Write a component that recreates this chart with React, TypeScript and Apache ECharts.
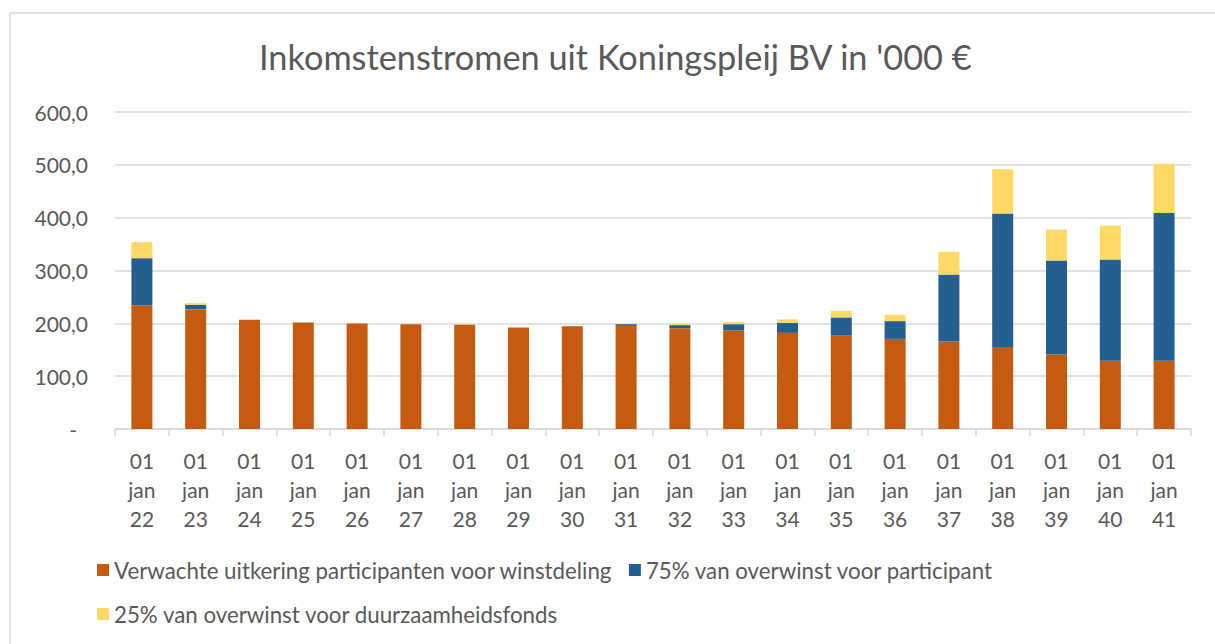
import React, { useEffect, useRef } from "react";
import * as echarts from "echarts";

const years = ["22","23","24","25","26","27","28","29","30","31","32","33","34","35","36","37","38","39","40","41"];
const categories = years.map((y) => `01\njan\n${y}`);
const uitkering = [234, 226.4, 206.7, 201.6, 199.7, 198.5, 197.2, 192.1, 194.7, 195.3, 190.9, 186.4, 182, 176.9, 170.6, 165.5, 155.4, 140.8, 129.4, 129.4];
const participant = [89.4, 8.9, 0, 0, 0, 0, 0, 0, 0, 3.2, 5.7, 12, 19, 34.3, 33.6, 126.8, 252.3, 178.2, 191.5, 279.6];
const fonds = [30.2, 3, 0, 0, 0, 0, 0, 0, 0, 1, 1.9, 4, 6.4, 12.5, 12, 43, 83.8, 58.3, 64, 93.2];
const seriesNames = [
  "Verwachte uitkering participanten voor winstdeling",
  "75% van overwinst voor participant",
  "25% van overwinst voor duurzaamheidsfonds",
];
const colors = ["#C55A11", "#255E91", "#FFD966"];
const FONT = "Lato";
const TXT = "#595959";

export default function App() {
  const ref = useRef<HTMLDivElement>(null);
  useEffect(() => {
    document.body.style.margin = "0";
    const chart = echarts.init(ref.current!, null, { renderer: "svg" });
    const mk = (i: number, data: number[]) => ({
      name: seriesNames[i],
      type: "bar",
      stack: "total",
      data,
      barWidth: 21,
      itemStyle: { color: colors[i] },
    });
    const legendText = { fontFamily: FONT, fontSize: 22.3, color: TXT };
    chart.setOption({
      animation: false,
      textStyle: { fontFamily: FONT },
      graphic: [
        {
          type: "rect",
          shape: { x: 10, y: 13, width: 1240, height: 700 },
          style: { fill: "none", stroke: "#D9D9D9", lineWidth: 1.5 },
          silent: true,
        },
      ],
      title: {
        text: "Inkomstenstromen uit Koningspleij BV in '000 €",
        left: 259,
        top: 39,
        padding: 0,
        textStyle: { fontFamily: FONT, fontSize: 34.3, fontWeight: "normal", color: TXT },
      },
      legend: [
        {
          data: [seriesNames[0], seriesNames[1]],
          left: 97,
          top: 559,
          padding: 0,
          itemWidth: 12,
          itemHeight: 12,
          itemGap: 16,
          icon: "rect",
          textStyle: legendText,
        },
        {
          data: [seriesNames[2]],
          left: 97,
          top: 603,
          padding: 0,
          itemWidth: 12,
          itemHeight: 12,
          icon: "rect",
          textStyle: legendText,
        },
      ],
      grid: { left: 115, right: 24, top: 112, bottom: 215, containLabel: false },
      xAxis: {
        type: "category",
        data: categories,
        axisLine: { lineStyle: { color: "#D9D9D9", width: 1.5 } },
        axisTick: { show: true, length: 7, lineStyle: { color: "#D9D9D9", width: 1.5 } },
        axisLabel: {
          interval: 0,
          margin: 17,
          fontFamily: FONT,
          fontSize: 21,
          lineHeight: 29,
          color: TXT,
        },
      },
      yAxis: {
        type: "value",
        min: 0,
        max: 600,
        interval: 100,
        axisLine: { show: false },
        axisTick: { show: false },
        splitLine: { lineStyle: { color: "#D9D9D9", width: 1.5 } },
        axisLabel: {
          margin: 27,
          color: TXT,
          fontFamily: FONT,
          fontSize: 21,
          formatter: (v: number) => (v === 0 ? "{d|-}" : v.toFixed(1).replace(".", ",")),
          rich: {
            d: { fontFamily: FONT, fontSize: 21, color: TXT, padding: [0, 11, 0, 0] },
          },
        },
      },
      series: [mk(0, uitkering), mk(1, participant), mk(2, fonds)],
    });
    return () => chart.dispose();
  }, []);
  return <div ref={ref} style={{ width: 1215, height: 644 }} />;
}
